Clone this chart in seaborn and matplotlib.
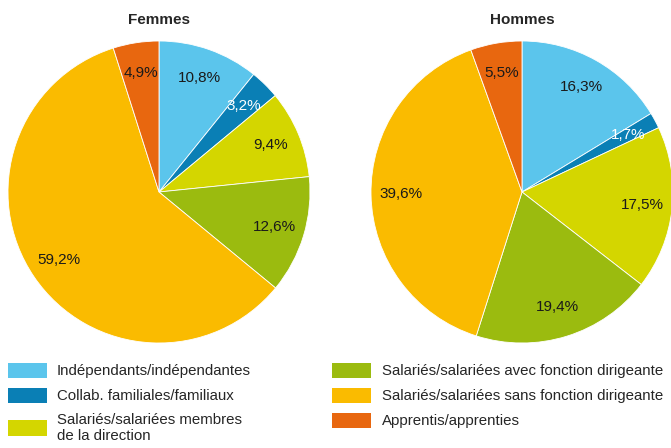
import matplotlib
matplotlib.use("Agg")
import matplotlib.pyplot as plt
import seaborn as sns
from matplotlib.patches import Patch

categories = [
    "Indépendants/indépendantes",
    "Collab. familiales/familiaux",
    "Salariés/salariées membres\nde la direction",
    "Salariés/salariées avec fonction dirigeante",
    "Salariés/salariées sans fonction dirigeante",
    "Apprentis/apprenties",
]
femmes = [10.8, 3.2, 9.4, 12.6, 59.2, 4.9]
hommes = [16.3, 1.7, 17.5, 19.4, 39.6, 5.5]
titles = ["Femmes", "Hommes"]
colors = ["#5BC5EC", "#0A7FB5", "#D4D600", "#9BBB0F", "#FABB00", "#E8670F"]

sns.set_theme(style="white")
plt.rcParams["font.family"] = ["Liberation Sans Narrow", "Liberation Sans", "DejaVu Sans"]
palette = sns.color_palette(colors)

W, H = 671, 448
fig = plt.figure(figsize=(W / 100, H / 100), dpi=100)
R = 151
centers = [(159, 192), (522, 192)]

for (cx, cy), vals, title in zip(centers, [femmes, hommes], titles):
    ax = fig.add_axes([(cx - R) / W, (H - cy - R) / H, 2 * R / W, 2 * R / H])
    wedges, texts, autotexts = ax.pie(
        vals, colors=palette, startangle=90, counterclock=False,
        autopct=lambda p: "", pctdistance=0.8, radius=1,
        wedgeprops=dict(linewidth=0.6, edgecolor="white"))
    for i, (v, at) in enumerate(zip(vals, autotexts)):
        at.set_text(f"{v:.1f}".replace(".", ",") + "%")
        at.set_fontsize(11)
        at.set_color("white" if i == 1 else "#1a1a1a")
    ax.set_xlim(-1, 1)
    ax.set_ylim(-1, 1)
    ax.set_aspect("auto")
    ax.axis("off")
    fig.text(cx / W, 1 - 20 / H, title, ha="center", va="center",
             fontsize=11, fontweight="bold", family=["Liberation Sans", "DejaVu Sans"])

handles = [Patch(facecolor=c, edgecolor="none") for c in colors]
fig.legend(handles, categories, loc="upper left", bbox_to_anchor=(3 / W, 1 - 358 / H),
           ncol=2, frameon=False, fontsize=10.8, handlelength=2.6, handleheight=1.2,
           handletextpad=0.7, labelspacing=0.62, columnspacing=5.4, borderaxespad=0,
           borderpad=0.3)

fig.savefig("out.png", dpi=100)
